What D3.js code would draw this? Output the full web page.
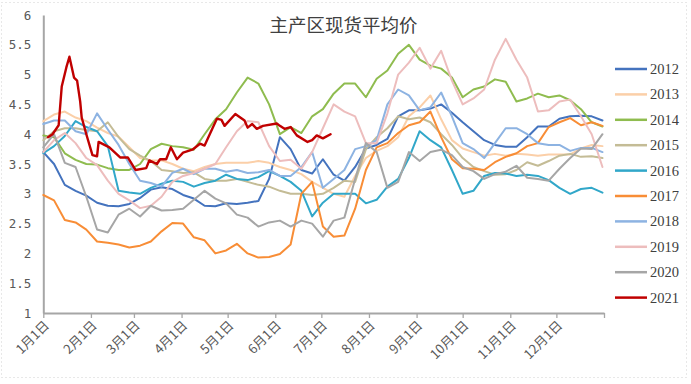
<!DOCTYPE html>
<html><head><meta charset="utf-8">
<script src="https://cdn.jsdelivr.net/npm/d3@7/dist/d3.min.js"></script>
<style>body{margin:0;background:#fff;} svg{display:block;}</style>
</head><body><svg id="c" width="691" height="384"></svg>
<script>
const title = "主产区现货平均价";
const years = ["2012","2013","2014","2015","2016","2017","2018","2019","2020","2021"];
const colors = ["#4473BE","#FBCFA8","#8FBC4F","#C4BC96","#31A7C9","#F88D36","#8DB3E2","#EDBDBD","#A6A6A6","#C00000"];
const yTicks = [1,1.5,2,2.5,3,3.5,4,4.5,5,5.5,6];
const yTickLabels = ["1","1.5","2","2.5","3","3.5","4","4.5","5","5.5","6"];
const monthLabels = ["1月1日","2月1日","3月1日","4月1日","5月1日","6月1日","7月1日","8月1日","9月1日","10月1日","11月1日","12月1日"];

// weekly values (one every 7 days from 1 Jan)
const s2012 = [3.7,3.5,3.15,3.05,2.97,2.85,2.8,2.79,2.83,2.93,3.07,3.11,3.08,2.98,2.92,2.8,2.79,2.84,2.83,2.85,2.88,3.25,3.95,3.75,3.4,3.34,3.58,3.32,3.22,3.45,3.76,3.82,3.92,4.3,4.4,4.4,4.43,4.5,4.36,4.2,4.05,3.9,3.82,3.79,3.79,3.95,4.13,4.13,4.26,4.3,4.31,4.3,4.23];
const s2013 = [4.22,4.33,4.38,4.28,4.22,4.11,4.02,3.96,3.78,3.6,3.56,3.56,3.5,3.42,3.38,3.45,3.5,3.52,3.52,3.52,3.55,3.52,3.45,3.4,3.33,3.2,3.1,3.0,2.95,3.3,3.6,3.72,3.8,3.95,4.3,4.45,4.65,4.25,3.9,3.76,3.7,3.64,3.67,3.64,3.67,3.66,3.64,3.66,3.66,3.66,3.76,3.82,3.8];
const s2014 = [3.98,3.95,3.68,3.57,3.5,3.49,3.43,3.4,3.4,3.5,3.75,3.84,3.8,3.78,3.74,4.0,4.25,4.42,4.7,4.95,4.85,4.5,4.0,4.12,4.02,4.3,4.42,4.68,4.85,4.85,4.62,4.93,5.07,5.35,5.5,5.25,5.15,5.1,4.95,4.62,4.75,4.8,4.92,4.88,4.55,4.6,4.68,4.62,4.65,4.57,4.42,4.2,4.13];
const s2015 = [3.9,4.05,4.1,4.1,4.07,4.05,4.2,3.95,3.75,3.64,3.55,3.4,3.38,3.35,3.36,3.25,3.22,3.22,3.25,3.2,3.15,3.12,3.05,3.0,3.0,2.98,3.0,3.1,3.22,3.2,3.75,3.95,4.1,4.3,4.25,4.28,4.2,4.0,3.82,3.6,3.45,3.38,3.32,3.33,3.4,3.53,3.47,3.55,3.64,3.67,3.62,3.63,3.6];
const s2016 = [3.68,3.8,3.97,4.22,4.12,4.05,3.8,3.05,3.02,3.0,3.1,3.17,3.22,3.2,3.12,3.18,3.22,3.32,3.25,3.23,3.28,3.38,3.3,3.2,3.05,2.62,2.85,3.0,3.0,3.0,2.84,2.9,3.12,3.25,3.6,4.05,3.9,3.78,3.4,3.0,3.05,3.3,3.35,3.34,3.3,3.32,3.3,3.23,3.1,3.0,3.08,3.1,3.02];
const s2017 = [2.98,2.89,2.56,2.52,2.4,2.2,2.18,2.15,2.1,2.13,2.2,2.37,2.51,2.5,2.27,2.22,2.0,2.05,2.16,2.0,1.93,1.94,1.99,2.15,3.0,3.2,2.45,2.28,2.3,2.75,3.4,3.78,3.85,4.02,4.15,4.2,4.38,3.95,3.58,3.43,3.42,3.4,3.53,3.62,3.68,3.8,3.85,4.12,4.2,4.27,4.15,4.2,4.14];
const s2018 = [4.17,4.23,4.23,4.05,4.0,4.35,4.08,3.82,3.5,3.22,3.18,3.12,3.35,3.42,3.33,3.42,3.42,3.37,3.4,3.35,3.36,3.4,3.3,3.3,3.45,3.7,3.1,3.25,3.4,3.75,3.8,3.9,4.5,4.75,4.65,4.4,4.45,4.7,4.3,3.85,3.75,3.6,3.85,4.1,4.1,4.0,3.85,3.82,3.82,3.72,3.77,3.77,3.7];
const s2019 = [3.7,3.9,4.02,3.85,3.6,3.48,3.22,3.0,2.89,2.76,2.8,2.95,3.2,3.3,3.35,3.42,3.5,3.78,4.05,4.22,4.2,3.8,3.55,3.57,3.42,3.7,4.1,4.5,4.38,4.3,3.85,3.85,4.35,5.0,5.2,5.45,5.1,5.4,4.9,4.5,4.6,4.75,5.25,5.6,5.25,4.95,4.38,4.4,4.55,4.58,4.3,4.0,3.45];
const s2020 = [3.78,4.0,3.52,3.45,2.95,2.4,2.35,2.65,2.75,2.62,2.8,2.72,2.73,2.75,2.9,3.05,2.92,2.84,2.65,2.6,2.45,2.52,2.55,2.45,2.55,2.5,2.28,2.55,2.6,3.25,3.85,3.7,3.1,3.2,3.7,3.55,3.7,3.74,3.65,3.45,3.38,3.25,3.33,3.37,3.47,3.27,3.25,3.22,3.42,3.6,3.76,3.75,4.0];
// 2021: day of year and value
const days2021 = [3,6,10,12,15,17,20,22,24,25,28,32,35,36,43,50,55,60,67,69,74,76,80,83,87,91,97,102,105,110,113,116,118,125,131,133,136,139,143,152,154,157,161,165,172,175,178,182,187];
const s2021 = [3.95,4.0,4.15,4.8,5.12,5.3,4.95,4.9,4.55,4.28,4.0,3.65,3.63,3.87,3.78,3.61,3.61,3.4,3.43,3.56,3.5,3.58,3.58,3.78,3.58,3.69,3.74,3.84,3.81,4.09,4.26,4.24,4.14,4.34,4.23,4.11,4.17,4.09,4.14,4.18,4.14,4.09,4.12,3.98,3.87,3.9,3.98,3.93,4.0];

const weeklySeries = [s2012,s2013,s2014,s2015,s2016,s2017,s2018,s2019,s2020];

const svg = d3.select("#c");
const t0 = new Date(2019,0,1), t1 = new Date(2020,0,1);
const x = d3.scaleTime().domain([t0,t1]).range([43.3,604]);
const y = d3.scaleLinear().domain([1,6]).range([313,15]);
const dayToDate = d => d3.timeDay.offset(t0, d);

// dotted outer border
svg.append("rect").attr("x",1.5).attr("y",2.5).attr("width",685).attr("height",375)
  .attr("fill","none").attr("stroke","#D0D0D0").attr("stroke-dasharray","1,3");

// title
svg.append("text").attr("x",343.5).attr("y",32).attr("text-anchor","middle")
  .attr("font-family","'Noto Sans CJK SC'").attr("font-size",18.5).attr("fill","#404040").text(title);

// y axis
const yAxis = svg.append("g").attr("transform","translate(43.3,0)")
  .call(d3.axisLeft(y).tickValues(yTicks).tickSize(0).tickPadding(12).tickFormat((d,i)=>yTickLabels[i]));
yAxis.select(".domain").attr("stroke","#A6A6A6").attr("stroke-width",2);
yAxis.selectAll("text").attr("font-family","'DejaVu Sans Mono'").attr("font-size",12.5).attr("fill","#595959");

// x axis
const tickDates = d3.timeMonth.range(t0, d3.timeDay.offset(t1,1));
const xAxis = svg.append("g").attr("transform","translate(0,313)")
  .call(d3.axisBottom(x).tickValues(tickDates).tickSize(5).tickSizeOuter(0)
    .tickFormat((d,i)=> i<monthLabels.length ? monthLabels[i] : ""));
xAxis.select(".domain").attr("stroke","#A6A6A6").attr("stroke-width",2);
xAxis.selectAll(".tick line").attr("stroke","#A6A6A6").attr("stroke-width",1.3);
xAxis.selectAll("text").attr("font-family","'Noto Sans CJK SC'").attr("font-size",13).attr("fill","#595959")
  .attr("text-anchor","end").attr("dy","0.35em")
  .attr("transform","translate(3,10) rotate(-45)").attr("y",0).attr("x",0);

// lines
const line = d3.line().x(d=>x(d[0])).y(d=>y(d[1])).curve(d3.curveLinear);
const allData = weeklySeries.map(s => s.map((v,k)=>[dayToDate(k*7), v]));
allData.push(s2021.map((v,i)=>[dayToDate(days2021[i]), v]));

svg.append("g").selectAll("path").data(allData).join("path")
  .attr("d", line).attr("fill","none")
  .attr("stroke",(d,i)=>colors[i])
  .attr("stroke-width",(d,i)=> i===9 ? 2.4 : 2)
  .attr("stroke-linejoin","round").attr("stroke-linecap","round");

// legend
const lg = svg.append("g").selectAll("g").data(years).join("g")
  .attr("transform",(d,i)=>`translate(615,${69 + i*25.4})`);
lg.append("line").attr("x1",0).attr("x2",32).attr("y1",0).attr("y2",0)
  .attr("stroke",(d,i)=>colors[i]).attr("stroke-width",2.5);
lg.append("text").attr("x",35).attr("y",5).text(d=>d)
  .attr("font-family","'Liberation Serif'").attr("font-size",14.5).attr("fill","#404040");
</script></body></html>
